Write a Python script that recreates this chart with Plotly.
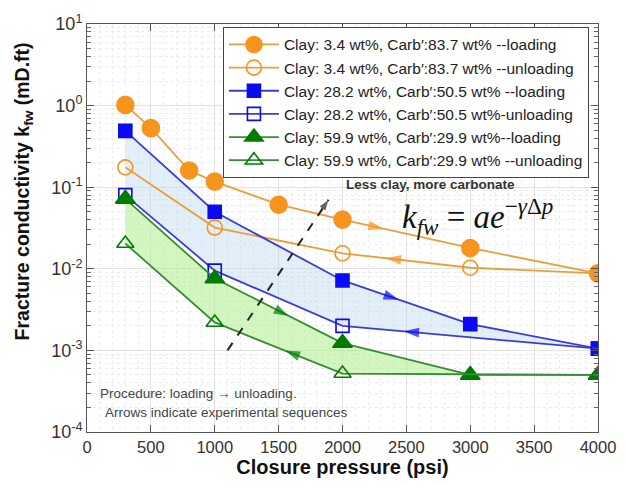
import numpy as np
import plotly.graph_objects as go

# ---------------- data ----------------
orange_load_x = [300, 500, 800, 1000, 1500, 2000, 3000, 4000]
orange_load_y = [1.02, 0.53, 0.16, 0.117, 0.061, 0.040, 0.018, 0.0088]
orange_unload_x = [4000, 3000, 2000, 1000, 300]
orange_unload_y = [0.0088, 0.0103, 0.0155, 0.032, 0.175]

blue_load_x = [300, 1000, 2000, 3000, 4000]
blue_load_y = [0.49, 0.050, 0.0072, 0.0021, 0.00105]
blue_unload_x = [4000, 2000, 1000, 300]
blue_unload_y = [0.00105, 0.0020, 0.0095, 0.080]

green_load_x = [300, 1000, 2000, 3000, 4000]
green_load_y = [0.072, 0.0076, 0.00123, 0.0005, 0.0005]
green_unload_x = [4000, 2000, 1000, 300]
green_unload_y = [0.0005, 0.00052, 0.0022, 0.0204]

legend_names = [
    "Clay: 3.4 wt%, Carb\u2032:83.7 wt% --loading",
    "Clay: 3.4 wt%, Carb\u2032:83.7 wt% --unloading",
    "Clay: 28.2 wt%, Carb\u2032:50.5 wt% --loading",
    "Clay: 28.2 wt%, Carb\u2032:50.5 wt%-unloading",
    "Clay: 59.9 wt%, Carb\u2032:29.9 wt%--loading",
    "Clay: 59.9 wt%, Carb\u2032:29.9 wt% --unloading",
]

x_ticks = [0, 500, 1000, 1500, 2000, 2500, 3000, 3500, 4000]
y_exponents = [-4, -3, -2, -1, 0, 1]

# direction arrows: (series key, segment start index, fraction along segment)
arrow_specs = [
    ("ol", 5, 0.32), ("ou", 1, 0.66),
    ("bl", 2, 0.44), ("bu", 0, 0.76),
    ("gl", 1, 0.58), ("gu", 1, 0.45),
]

# dashed "less clay" arrow (annotation position)
trend_arrow_x = [1100, 1890]
trend_arrow_y = [0.001, 0.07]

# ---------------- styles ----------------
ORANGE_M = "rgb(247,148,30)"
ORANGE_L = "rgb(232,160,60)"
BLUE_M = "rgb(10,10,245)"
BLUE_L = "rgb(60,60,215)"
GREEN_M = "rgb(0,125,0)"
GREEN_L = "rgb(55,140,55)"

series = {
    "ol": (orange_load_x, orange_load_y, ORANGE_L, ORANGE_M),
    "ou": (orange_unload_x, orange_unload_y, ORANGE_L, ORANGE_M),
    "bl": (blue_load_x, blue_load_y, BLUE_L, BLUE_M),
    "bu": (blue_unload_x, blue_unload_y, BLUE_L, BLUE_M),
    "gl": (green_load_x, green_load_y, GREEN_L, GREEN_M),
    "gu": (green_unload_x, green_unload_y, GREEN_L, GREEN_M),
}

fig = go.Figure()

# shaded hysteresis areas
fig.add_trace(go.Scatter(
    x=blue_load_x + blue_unload_x, y=blue_load_y + blue_unload_y,
    fill="toself", fillcolor="rgba(190,220,242,0.45)", line=dict(width=0),
    mode="lines", showlegend=False, hoverinfo="skip"))
fig.add_trace(go.Scatter(
    x=green_load_x + green_unload_x, y=green_load_y + green_unload_y,
    fill="toself", fillcolor="rgba(175,238,140,0.55)", line=dict(width=0),
    mode="lines", showlegend=False, hoverinfo="skip"))

specs = [
    ("ol", "circle", 17, True),
    ("ou", "circle-open", 15, False),
    ("bl", "square", 13, True),
    ("bu", "square-open", 13, False),
    ("gl", "triangle-up", 17, True),
    ("gu", "triangle-up-open", 15, False),
]
for (key, sym, size, filled), name in zip(specs, legend_names):
    xs, ys, lc, mc = series[key]
    fig.add_trace(go.Scatter(
        x=xs, y=ys, mode="lines+markers", name=name,
        line=dict(color=lc, width=1.8),
        marker=dict(symbol=sym, size=size, color=mc,
                    line=dict(color=mc, width=1.6)),
    ))


def interp(xs, ys, i, t):
    x = xs[i] + (xs[i + 1] - xs[i]) * t
    ly = np.log10(ys[i]) + (np.log10(ys[i + 1]) - np.log10(ys[i])) * t
    return x, 10 ** ly


for key, i, t in arrow_specs:
    xs, ys, lc, mc = series[key]
    x0, y0 = interp(xs, ys, i, t - 0.08)
    x1, y1 = interp(xs, ys, i, t)
    fig.add_trace(go.Scatter(
        x=[x0, x1], y=[y0, y1], mode="markers", showlegend=False,
        hoverinfo="skip",
        marker=dict(symbol="arrow", size=[0, 16], angleref="previous",
                    color=mc, line=dict(width=0)),
    ))

# dashed trend arrow
fig.add_trace(go.Scatter(
    x=trend_arrow_x, y=trend_arrow_y, mode="lines", showlegend=False,
    hoverinfo="skip", line=dict(color="#222", width=2, dash="dash")))
fig.add_trace(go.Scatter(
    x=trend_arrow_x, y=trend_arrow_y, mode="markers", showlegend=False,
    hoverinfo="skip",
    marker=dict(symbol="arrow", size=[0, 11], angleref="previous",
                color="#222", line=dict(width=0))))

fig.add_annotation(x=2010, y=-0.97, xref="x", yref="y", text="<b>Less clay, more carbonate</b>",
                   showarrow=False, xanchor="left", yanchor="middle",
                   font=dict(size=13.5, color="#333", family="Liberation Sans, Arial"))
fig.add_annotation(x=3060, y=-1.36, xref="x", yref="y",
                   text="<i>k</i><sub><i>fw</i></sub> = <i>ae</i><sup>\u2212<i>\u03b3</i>\u0394<i>p</i></sup>",
                   showarrow=False, xanchor="center", yanchor="middle",
                   font=dict(size=33, color="#111", family="Liberation Serif, DejaVu Serif"))
fig.add_annotation(x=0.021, y=0.095, xref="paper", yref="paper",
                   text="Procedure: loading \u2192 unloading.", showarrow=False,
                   xanchor="left", yanchor="middle",
                   font=dict(size=13.5, color="#444", family="Liberation Sans, Arial"))
fig.add_annotation(x=0.031, y=0.049, xref="paper", yref="paper",
                   text="Arrows indicate experimental sequences", showarrow=False,
                   xanchor="left", yanchor="middle",
                   font=dict(size=13.5, color="#444", family="Liberation Sans, Arial"))
# y-axis title
fig.add_annotation(x=-0.125, y=0.59, xref="paper", yref="paper",
                   text="<b>Fracture conductivity k<sub>fw</sub> (mD.ft)</b>",
                   textangle=-90, showarrow=False, xanchor="center", yanchor="middle",
                   font=dict(size=19.5, color="#111", family="Liberation Sans, Arial"))

fig.update_layout(
    width=628, height=486,
    margin=dict(l=87, r=23, t=23, b=54),
    paper_bgcolor="white", plot_bgcolor="white",
    font=dict(family="Liberation Sans, Arial", color="#222"),
    legend=dict(x=0.266, y=0.993, xanchor="left", yanchor="top",
                bgcolor="white", bordercolor="#444", borderwidth=1,
                font=dict(size=15.5, color="#222"), itemwidth=50,
                tracegroupgap=0),
)
fig.update_xaxes(
    range=[0, 4000], tickvals=x_ticks, ticktext=[str(v) for v in x_ticks],
    showline=True, linecolor="#555", linewidth=1, mirror="ticks",
    ticks="inside", ticklen=7, tickcolor="#555",
    showgrid=True, gridcolor="#e2e2e2", gridwidth=1,
    minor=dict(dtick=100, showgrid=True, gridcolor="#ececec", griddash="dot"),
    tickfont=dict(size=16.5, color="#333"),
    title=dict(text="<b>Closure pressure (psi)</b>", font=dict(size=20, color="#111"), standoff=4),
    zeroline=False,
)
minor_vals = [m * 10 ** e for e in y_exponents[:-1] for m in range(2, 10)]
fig.update_yaxes(
    type="log", range=[-4, 1],
    tickvals=[10 ** e for e in y_exponents],
    ticktext=["10<sup>%d</sup>" % e for e in y_exponents],
    showline=True, linecolor="#555", linewidth=1, mirror="ticks",
    ticks="inside", ticklen=7, tickcolor="#555",
    showgrid=True, gridcolor="#e2e2e2",
    minor=dict(tickvals=minor_vals, ticks="inside", ticklen=4, tickcolor="#666",
               showgrid=True, gridcolor="#ececec", griddash="dot"),
    tickfont=dict(size=18, color="#333"),
    zeroline=False,
)

fig.write_html("out.html")
